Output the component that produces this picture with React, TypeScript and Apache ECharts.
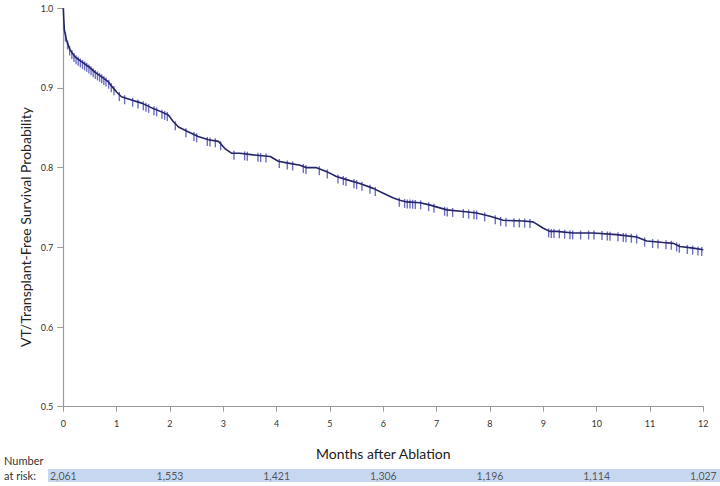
import React, { useEffect, useRef } from "react";
import * as echarts from "echarts";

const months = [0, 0.01, 0.02, 0.06, 0.125, 0.22, 0.34, 0.47, 0.59, 0.72, 0.84, 0.91, 1.0, 1.09, 1.28, 1.47, 1.66, 1.84, 1.97, 2.06, 2.16, 2.34, 2.53, 2.72, 2.91, 3.03, 3.16, 3.31, 3.56, 3.88, 4.03, 4.19, 4.44, 4.56, 4.75, 4.94, 5.12, 5.31, 5.56, 5.81, 6.0, 6.19, 6.31, 6.44, 6.69, 6.88, 7.19, 7.5, 7.75, 8.0, 8.25, 8.62, 8.81, 9.0, 9.12, 9.25, 9.56, 9.94, 10.37, 10.75, 10.94, 11.25, 11.44, 11.56, 11.81, 12.0];
const survival = [1.0, 0.985, 0.973, 0.96, 0.948, 0.939, 0.933, 0.927, 0.92, 0.914, 0.908, 0.902, 0.895, 0.889, 0.885, 0.881, 0.875, 0.87, 0.866, 0.858, 0.851, 0.845, 0.839, 0.835, 0.833, 0.824, 0.818, 0.818, 0.816, 0.814, 0.808, 0.806, 0.803, 0.8, 0.8, 0.795, 0.789, 0.785, 0.78, 0.774, 0.768, 0.762, 0.759, 0.757, 0.756, 0.753, 0.747, 0.745, 0.743, 0.739, 0.734, 0.733, 0.732, 0.724, 0.72, 0.72, 0.718, 0.718, 0.716, 0.713, 0.708, 0.706, 0.705, 0.701, 0.699, 0.697];

const censorTimes = [
  0.04, 0.08, 0.12, 0.16, 0.2, 0.24, 0.28, 0.32, 0.36, 0.4, 0.44, 0.48, 0.52, 0.56, 0.6, 0.64, 0.68, 0.72, 0.76, 0.8, 0.85, 0.9, 0.95,
  1.05, 1.15, 1.3, 1.4, 1.5, 1.55, 1.6, 1.7, 1.75, 1.85, 1.9, 1.95,
  2.1, 2.3, 2.45, 2.5, 2.7, 2.75, 2.85, 2.95,
  3.2, 3.4, 3.45, 3.65, 3.7, 3.8,
  4.05, 4.2, 4.3, 4.5, 4.55, 4.8, 4.95,
  5.15, 5.25, 5.3, 5.45, 5.5, 5.6, 5.75, 5.85,
  6.3, 6.4, 6.45, 6.5, 6.55, 6.6, 6.7, 6.85, 6.95,
  7.15, 7.2, 7.3, 7.5, 7.6, 7.7, 7.75, 7.9,
  8.1, 8.2, 8.3, 8.45, 8.55, 8.65, 8.75,
  9.1, 9.15, 9.2, 9.3, 9.4, 9.5, 9.55, 9.7, 9.85, 9.95,
  10.1, 10.2, 10.25, 10.4, 10.5, 10.55, 10.65, 10.75, 10.9,
  11.05, 11.15, 11.3, 11.4, 11.5, 11.55, 11.7, 11.8, 11.9, 11.97,
];

const riskMonths = [0, 2, 4, 6, 8, 10, 12];
const riskCounts = [2061, 1553, 1421, 1306, 1196, 1114, 1027];

const FONT = "Lato, 'Open Sans', sans-serif";

function survivalAt(t: number): number {
  for (let i = 0; i < months.length - 1; i++) {
    if (t >= months[i] && t <= months[i + 1]) {
      const f = (t - months[i]) / (months[i + 1] - months[i]);
      return survival[i] + f * (survival[i + 1] - survival[i]);
    }
  }
  return survival[survival.length - 1];
}

export default function App() {
  const ref = useRef<HTMLDivElement>(null);
  useEffect(() => {
    if (!ref.current) return;
    const chart = echarts.init(ref.current, undefined, { renderer: "svg" });
    const axisGray = "#9a9a9a";
    chart.setOption({
      animation: false,
      backgroundColor: "#ffffff",
      grid: [
        { left: 63.3, right: 16.7, top: 8.3, height: 398.4 },
        { left: 63.3, right: 16.7, top: 469, height: 13 },
      ],
      xAxis: [
        {
          gridIndex: 0,
          type: "value",
          min: 0,
          max: 12,
          interval: 1,
          name: "Months after Ablation",
          nameLocation: "middle",
          nameGap: 40,
          nameTextStyle: { fontFamily: FONT, fontSize: 14, color: "#222" },
          axisLine: { lineStyle: { color: axisGray, width: 1.2 } },
          axisTick: { show: true, length: 5, lineStyle: { color: axisGray } },
          axisLabel: { fontFamily: FONT, fontSize: 9, color: "#333", margin: 12 },
          splitLine: { show: false },
        },
        { gridIndex: 1, type: "value", min: 0, max: 12, show: false },
      ],
      yAxis: [
        {
          gridIndex: 0,
          type: "value",
          min: 0.5,
          max: 1.0,
          interval: 0.1,
          axisLine: { show: true, lineStyle: { color: axisGray, width: 1.2 } },
          axisTick: { show: true, length: 6, lineStyle: { color: axisGray } },
          axisLabel: {
            fontFamily: FONT,
            fontSize: 9,
            color: "#333",
            margin: 10,
            formatter: (v: number) => v.toFixed(1),
          },
          splitLine: { show: false },
        },
        { gridIndex: 1, type: "value", min: 0, max: 1, show: false },
      ],
      graphic: [
        { type: "rect", shape: { x: 48, y: 469, width: 672, height: 13 }, style: { fill: "#c7d7ef" }, z: -1 },
        { type: "text", left: 4, top: 455, style: { text: "Number", fontFamily: FONT, fontSize: 11, fill: "#333" } },
        { type: "text", left: 4, top: 470, style: { text: "at risk:", fontFamily: FONT, fontSize: 11, fill: "#333" } },
        {
          type: "text",
          x: 25,
          y: 227,
          rotation: Math.PI / 2,
          style: {
            text: "VT/Transplant-Free Survival Probability",
            fontFamily: FONT,
            fontSize: 14,
            fill: "#222",
            align: "center",
            verticalAlign: "middle",
          },
        },
      ],
      series: [
        {
          type: "line",
          xAxisIndex: 0,
          yAxisIndex: 0,
          showSymbol: false,
          symbol: "none",
          data: months.map((m, i) => [m, survival[i]]),
          lineStyle: { color: "#25256a", width: 1.6 },
          z: 3,
        },
        {
          type: "scatter",
          xAxisIndex: 0,
          yAxisIndex: 0,
          symbol: "rect",
          symbolSize: [1.4, 9],
          symbolOffset: [0, 2],
          itemStyle: { color: "#5656bd", opacity: 0.85 },
          data: censorTimes.map((t) => [t, survivalAt(t)]),
          z: 2,
        },
        {
          type: "scatter",
          xAxisIndex: 1,
          yAxisIndex: 1,
          symbolSize: 0,
          data: riskMonths.map((m, i) => ({ value: [m, 0.5], name: riskCounts[i].toLocaleString("en-US") })),
          label: {
            show: true,
            position: "inside",
            formatter: (p: any) => p.name,
            fontFamily: FONT,
            fontSize: 10.5,
            color: "#333",
          },
          z: 5,
        },
      ],
    });
    return () => chart.dispose();
  }, []);
  return <div ref={ref} style={{ position: "fixed", left: 0, top: 0, width: 720, height: 486 }} />;
}
